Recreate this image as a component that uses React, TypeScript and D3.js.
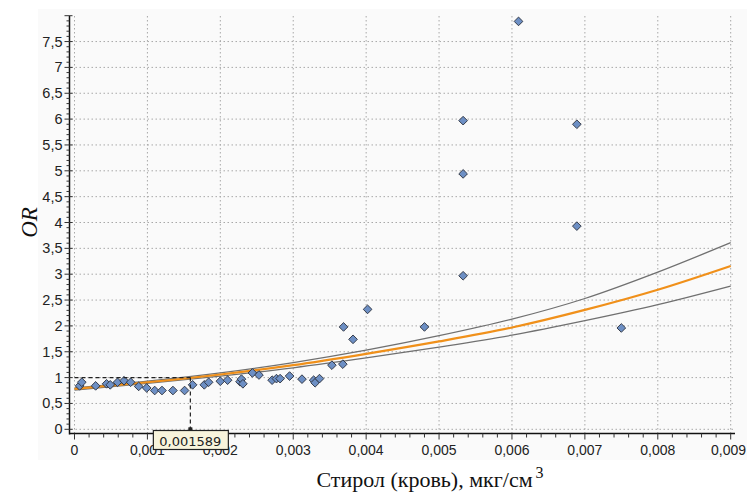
import React from "react";
import * as d3 from "d3";

// регрессия OR по стиролу: центральная кривая и доверительные границы
const fitX = [0, 0.001, 0.002, 0.003, 0.004, 0.005, 0.006, 0.007, 0.008, 0.009];
const fitMid = [0.78, 0.91, 1.06, 1.24, 1.46, 1.7, 1.97, 2.31, 2.7, 3.16];
const fitHigh = [0.8, 0.93, 1.09, 1.29, 1.53, 1.81, 2.13, 2.53, 3.04, 3.61];
const fitLow = [0.76, 0.89, 1.03, 1.19, 1.38, 1.59, 1.82, 2.1, 2.41, 2.77];

const pointX = [
  0.00007, 0.0001, 0.00029, 0.00044, 0.00049, 0.00059, 0.00068, 0.00077, 0.00088, 0.00099,
  0.0011, 0.0012, 0.00135, 0.00151, 0.00162, 0.00178, 0.00184, 0.002, 0.0021, 0.00227,
  0.00229, 0.00231, 0.00244, 0.00253, 0.00271, 0.00277, 0.00282, 0.00295, 0.00312, 0.00328,
  0.0033, 0.00336, 0.00353, 0.00368, 0.00369, 0.00382, 0.00402, 0.0048, 0.00533, 0.00533,
  0.00533, 0.00609, 0.00689, 0.00689, 0.0075,
];
const pointY = [
  0.84, 0.91, 0.84, 0.88, 0.86, 0.91, 0.94, 0.91, 0.83, 0.8,
  0.75, 0.75, 0.75, 0.75, 0.86, 0.86, 0.91, 0.93, 0.95, 0.92,
  0.97, 0.88, 1.09, 1.05, 0.95, 0.98, 0.98, 1.03, 0.97, 0.95,
  0.9, 0.98, 1.24, 1.26, 1.98, 1.74, 2.32, 1.98, 5.97, 4.94,
  2.97, 7.89, 5.9, 3.93, 1.96,
];

const xMajor = [0, 0.001, 0.002, 0.003, 0.004, 0.005, 0.006, 0.007, 0.008, 0.009];
const yMajor = [0, 0.5, 1, 1.5, 2, 2.5, 3, 3.5, 4, 4.5, 5, 5.5, 6, 6.5, 7, 7.5];
const cutoff = 0.001589;
const cutoffLabel = "0,001589";

const W = 747;
const H = 493;

const fmt = (v: number) => String(+v.toFixed(4)).replace(".", ",");

export default function App() {
  const x = d3.scaleLinear().domain([0, 0.009]).range([74.5, 730.7]);
  const y = d3.scaleLinear().domain([0, 8]).range([429.3, 15.7]);

  const axisX = 69.5;
  const axisY = 433.5;
  const gridRight = 735;

  const line = (vals: number[]) =>
    d3
      .line<number>()
      .x((_, i) => x(fitX[i]))
      .y((d) => y(d))
      .curve(d3.curveMonotoneX)(vals) || "";

  const xMinor = d3.range(0, 46).map((i) => i * 0.0002);
  const yMinor = d3.range(0, 81).map((i) => i * 0.1);

  const diamond = d3.symbol().type(d3.symbolDiamond2).size(48)() || "";

  return (
    <svg
      width={W}
      height={H}
      style={{ position: "absolute", left: 0, top: 0, background: "#fff" }}
      fontFamily="Liberation Sans, Arial, sans-serif"
    >
      <rect x={38} y={9} width={W - 38} height={451} fill="#fafafa" />

      {/* сетка */}
      <g stroke="#a8a8a8" strokeWidth={1} strokeDasharray="1.5,2.5">
        {yMajor.map((v) => (
          <line key={"gy" + v} x1={axisX + 2} x2={gridRight} y1={y(v)} y2={y(v)} />
        ))}
        {xMajor.map((v) => (
          <line key={"gx" + v} x1={x(v)} x2={x(v)} y1={16} y2={axisY} />
        ))}
      </g>

      {/* оси */}
      <line x1={axisX} x2={axisX} y1={16} y2={axisY + 1} stroke="#111" strokeWidth={1.5} />
      <line x1={axisX} x2={gridRight} y1={axisY} y2={axisY} stroke="#111" strokeWidth={1.5} />
      <g stroke="#333" strokeWidth={1}>
        {yMinor.map((v, i) => (
          <line
            key={"my" + i}
            x1={i % 5 === 0 ? axisX - 5 : axisX - 3}
            x2={i % 5 === 0 ? axisX + 3 : axisX}
            y1={y(v)}
            y2={y(v)}
          />
        ))}
        {xMinor.map((v, i) => (
          <line
            key={"mx" + i}
            x1={x(v)}
            x2={x(v)}
            y1={axisY}
            y2={i % 5 === 0 ? axisY + 6 : axisY + 4}
          />
        ))}
      </g>
      <g fontSize={14.5} fill="#222" textAnchor="end">
        {yMajor.map((v) => (
          <text key={"ly" + v} x={axisX - 7} y={y(v) + 5}>
            {fmt(v)}
          </text>
        ))}
      </g>
      <g fontSize={14} fill="#222">
        {xMajor.map((v, i) => {
          const last = i === xMajor.length - 1;
          return (
            <text
              key={"lx" + v}
              x={last ? W - 1 : x(v)}
              y={axisY + 21}
              textAnchor={last ? "end" : "middle"}
            >
              {fmt(v)}
            </text>
          );
        })}
      </g>

      {/* кривые */}
      <path d={line(fitHigh)} fill="none" stroke="#707070" strokeWidth={1.3} />
      <path d={line(fitLow)} fill="none" stroke="#707070" strokeWidth={1.3} />
      <path d={line(fitMid)} fill="none" stroke="#f0901a" strokeWidth={2.2} />

      {/* точки */}
      <g>
        {pointX.map((px, i) => (
          <path
            key={"p" + i}
            d={diamond}
            transform={`translate(${x(px)},${y(pointY[i])})`}
            fill="#6d8fc4"
            stroke="#2a2f3a"
            strokeWidth={0.9}
          />
        ))}
      </g>

      {/* порог */}
      <g stroke="#222" strokeWidth={1.2} strokeDasharray="4,3" fill="none">
        <line x1={x(0)} x2={x(cutoff)} y1={y(1)} y2={y(1)} />
        <line x1={x(cutoff)} x2={x(cutoff)} y1={y(1)} y2={y(0)} />
      </g>
      <rect x={x(cutoff) - 2} y={y(0) - 2} width={4} height={4} fill="#222" />
      <rect
        x={x(cutoff) - 37}
        y={axisY - 3}
        width={75}
        height={19}
        fill="#f8f4dc"
        stroke="#222"
        strokeWidth={1.2}
      />
      <text
        x={x(cutoff)}
        y={axisY + 12}
        fontSize={13}
        fontFamily="DejaVu Sans, Verdana, sans-serif"
        fill="#222"
        textAnchor="middle"
      >
        {cutoffLabel}
      </text>

      {/* подписи осей */}
      <text
        transform={`translate(37,${y(4)}) rotate(-90)`}
        textAnchor="middle"
        fontFamily="Liberation Serif, Times New Roman, serif"
        fontStyle="italic"
        fontSize={23}
        fill="#111"
      >
        OR
      </text>
      <text
        x={430}
        y={487}
        textAnchor="middle"
        fontFamily="Liberation Serif, Times New Roman, serif"
        fontSize={22}
        fill="#111"
      >
        Стирол (кровь), мкг/см
        <tspan dx={3} dy={-9} fontSize={16}>
          3
        </tspan>
      </text>
    </svg>
  );
}
